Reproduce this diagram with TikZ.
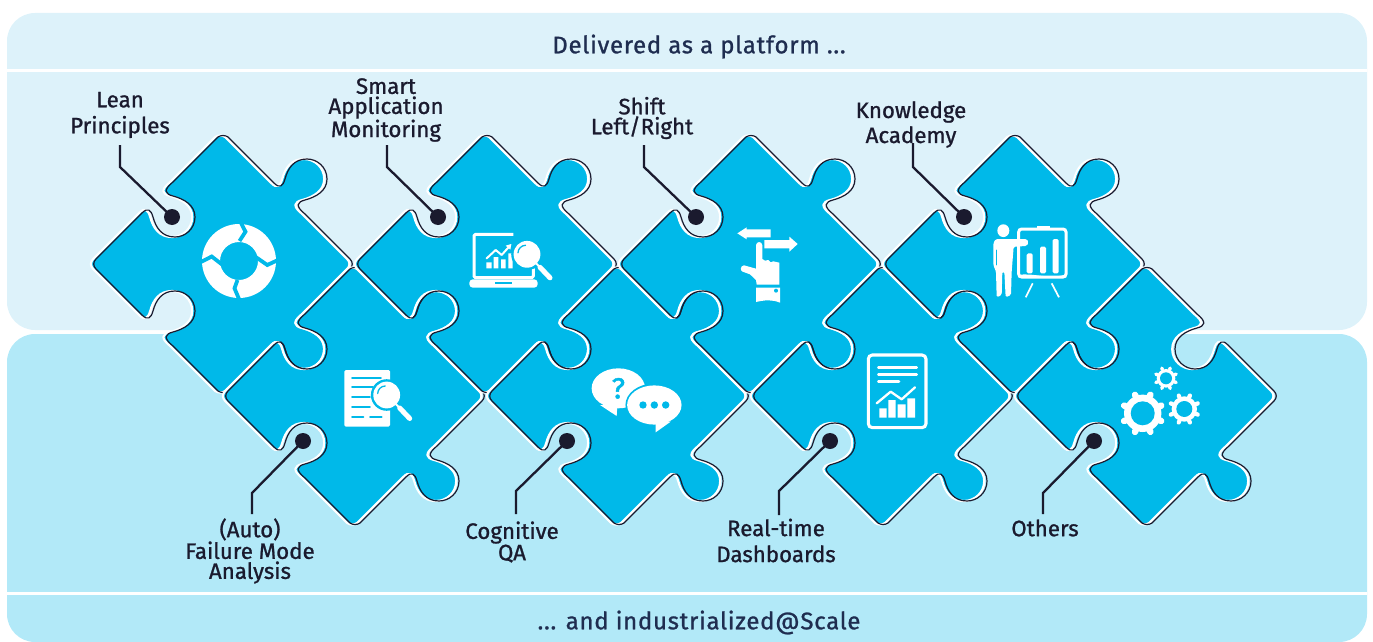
\documentclass[tikz,border=0pt]{standalone}
\usepackage{fontspec}
\setmainfont{Fira Sans}[FakeBold=1.0]
\newfontfamily\qmfont{Fira Sans}[FakeBold=1.6]
\definecolor{panelA}{HTML}{DDF2FA}
\definecolor{panelB}{HTML}{B2E9F8}
\definecolor{pieceblue}{HTML}{00B9E9}
\definecolor{inkdark}{HTML}{1A1A2E}
\definecolor{navy}{HTML}{1F2D50}
\def\edgeNEknob{-- (51,-81) .. controls (57,-75) and (60,-78) .. (62,-85) .. controls (65,-96) and (71,-105) .. (84,-105) .. controls (94,-105) and (104,-97) .. (104,-85) .. controls (104,-73) and (93,-67) .. (82,-64) .. controls (74,-62) and (72,-58) .. (82,-50) -- (127,-5)}
\def\edgeNEnotch{-- (50,-82) .. controls (60,-74) and (58,-70) .. (50,-68) .. controls (39,-65) and (28,-59) .. (28,-47) .. controls (28,-35) and (38,-27) .. (48,-27) .. controls (61,-27) and (67,-36) .. (70,-47) .. controls (72,-54) and (75,-57) .. (81,-51) -- (127,-5)}
\def\edgeRest{.. controls (130,-2) and (130,2) .. (127,5) -- (82,50) .. controls (72,58) and (74,62) .. (82,64) .. controls (93,67) and (104,73) .. (104,85) .. controls (104,97) and (94,105) .. (84,105) .. controls (71,105) and (65,96) .. (62,85) .. controls (60,78) and (57,75) .. (51,81) -- (5,127) .. controls (2,129) and (-2,129) .. (-5,127) -- (-50,82) .. controls (-60,74) and (-58,70) .. (-50,68) .. controls (-39,65) and (-28,59) .. (-28,47) .. controls (-28,35) and (-38,27) .. (-48,27) .. controls (-61,27) and (-67,36) .. (-70,47) .. controls (-72,54) and (-75,57) .. (-81,51) -- (-127,5) .. controls (-130,2) and (-130,-2) .. (-127,-5) -- (-81,-51) .. controls (-75,-57) and (-72,-54) .. (-70,-47) .. controls (-67,-36) and (-61,-27) .. (-48,-27) .. controls (-38,-27) and (-28,-35) .. (-28,-47) .. controls (-28,-59) and (-39,-65) .. (-50,-68) .. controls (-58,-70) and (-60,-74) .. (-50,-82) -- (-5,-127) .. controls (-2,-129) and (2,-129) .. (5,-127) -- cycle}
\newcommand{\puzzlepiece}[3]{%
  \begin{scope}[shift={(#1,#2)}]
    \fill[pieceblue,xshift=-2.8pt] (5,-127) #3 \edgeRest;
    \draw[pieceedge,xshift=-2.8pt] (5,-127) #3 \edgeRest;
    \draw[pieceline] (5,-127) #3 \edgeRest;
  \end{scope}}
\newcommand{\lensicon}[2]{%
  \begin{scope}[shift={(#1,#2)}]
    \fill[pieceblue] (0,0) circle (15.8pt);
    \fill[white] (0,0) circle (13.4pt);
    \draw[blueline,line width=1.3pt] (-1.5,-9) .. controls (-5.5,-9) and (-9,-5.5) .. (-9,-1.5);
    \draw[whiteline,line width=2pt] (9,9) -- (13,13);
    \draw[whiteline,line width=5pt] (13,13) -- (23,23.5);
  \end{scope}}
\newcommand{\gearicon}[7]{%
  \foreach \a in {0,45,...,315}{
    \draw[white,line width=#6pt,line cap=round] (#1,#2) ++(\a+#7:#4) -- ++(\a+#7:#3-#4-0.5*#6);
  }
  \fill[white] (#1,#2) circle (#4pt);
  \fill[pieceblue] (#1,#2) circle (#5pt);}
\tikzset{
  whiteline/.style={white,line cap=round,line join=round},
  blueline/.style={pieceblue,line cap=round,line join=round},
  pieceedge/.style={white,line width=2.2pt,line join=round},
  pieceline/.style={inkdark,line width=1.2pt,line join=round},
  leader/.style={inkdark,line width=2.3pt,line join=miter},
  anchordot/.style={circle,fill=inkdark,minimum size=16pt,inner sep=0pt},
  partlabel/.style={text=inkdark,font=\fontsize{22.3}{#1}\selectfont,align=center,inner sep=0pt},
  bannertext/.style={text=navy,font=\fontsize{24}{28}\selectfont,inner sep=0pt},
  gapline/.style={pieceblue,line width=3.8pt,line join=miter}
}
\begin{document}
\begin{tikzpicture}[x=1pt,y=-1pt]
\useasboundingbox (0,0) rectangle (1373,642);
% panels
\fill[panelA,rounded corners=28pt] (7,13) rectangle (1367,330);
\fill[panelB,rounded corners=28pt] (7,334) rectangle (1367,642);
\draw[white,line width=2.4pt] (7,70.5) -- (1367,70.5);
\draw[white,line width=3pt] (7,593) -- (1367,593);
\node[bannertext] (top) at (699,46.5) {\addfontfeature{LetterSpace=3}Delivered as a platform ...};
\node[bannertext] (bottom) at (699,622.5) {\addfontfeature{LetterSpace=3}... and industrialized@Scale};
% pieces
\puzzlepiece{223}{264}{\edgeNEknob}
\puzzlepiece{355}{396}{\edgeNEknob}
\puzzlepiece{487}{264}{\edgeNEknob}
\puzzlepiece{619}{396}{\edgeNEknob}
\puzzlepiece{751}{264}{\edgeNEknob}
\puzzlepiece{883}{396}{\edgeNEknob}
\puzzlepiece{1015}{264}{\edgeNEknob}
\puzzlepiece{1147}{396}{\edgeNEnotch}
% --- ring icon
\fill[white,even odd rule] (239,261) circle (37pt) (239,261) circle (19pt);
\draw[gapline] (241,223) -- (245.5,231.7) -- (239.5,241);
\draw[gapline] (255,256.5) -- (267.3,265) -- (278,260);
\draw[gapline] (237.5,280) -- (234.5,288.3) -- (239,299);
\draw[gapline] (201,262) -- (211.7,256.5) -- (222,264.5);
% --- document and lens
\fill[white,rounded corners=1.5pt] (344.3,370) rectangle (390,426.7);
\foreach \yy/\xa/\xb in {378.3/352/381,387.3/352/373,397.3/352/370,407.3/352/370,417.3/352/363.5,417.3/370/381.7}
  \draw[blueline,line width=1.7pt] (\xa,\yy) -- (\xb,\yy);
\lensicon{386.7}{395}
% --- laptop
\begin{scope}[shift={(465,225)},x=1/3*1pt,y=-1/3*1pt]
  \draw[white,line width=3pt,rounded corners=1.5pt,line join=round] (145,28) -- (27,28) -- (27,158) -- (205,158) -- (205,130);
  \fill[white,rounded corners=3.5pt] (13,163) rectangle (218,188);
  \fill[pieceblue] (90,170) rectangle (140,176);
  \fill[white] (64,112) rectangle (80,130) (86,96) rectangle (100,130) (108,103) rectangle (122,130) (130,85) rectangle (143,130);
  \draw[whiteline,line width=2pt] (65,100) -- (92,75) -- (110,90) -- (135,62);
  \fill[white] (139,57) -- (122,62) -- (136,74) -- cycle;
\end{scope}
\lensicon{527}{254.3}
% --- hand and arrows
\begin{scope}[shift={(730,220)},x=1/3*1pt,y=-1/3*1pt]
  \fill[white] (22,40) -- (50,22) -- (50,28) -- (122,28) -- (122,52) -- (50,52) -- (50,58) -- cycle;
  \fill[white] (203,72) -- (178,50) -- (178,60) -- (103,60) -- (103,85) -- (178,85) -- (178,95) -- cycle;
  \fill[white] (78,76) .. controls (78,63) and (97,63) .. (97,76) -- (97,117) -- (105,122) -- (115,120) -- (122,127) -- (130,124) -- (148,128) -- (148,194) -- (80,194) -- (78,180) -- (60,163) -- (38,155) .. controls (30,152) and (30,138) .. (42,136) -- (78,146) -- cycle;
  \fill[white] (78,203) -- (150,203) -- (150,248) .. controls (125,238) and (105,240) .. (78,246) -- cycle;
  \fill[pieceblue] (138,212) circle (2pt);
\end{scope}
% --- dashboard
\begin{scope}[shift={(860,345)},x=1/3*1pt,y=-1/3*1pt]
  \draw[white,line width=3.1pt,rounded corners=4pt] (25,30) rectangle (198,248);
  \draw[whiteline,line width=2.6pt] (55,67) -- (170,67) (55,88) -- (170,88) (55,110) -- (117,110);
  \fill[white] (58,190) rectangle (80,218) (85,165) rectangle (107,218) (113,178) rectangle (137,218) (142,160) rectangle (165,218);
  \draw[whiteline,line width=2.3pt] (50,175) -- (92,140) -- (125,163) -- (165,127);
\end{scope}
% --- presenter
\begin{scope}[shift={(985,215)},x=1/3*1pt,y=-1/3*1pt]
  \fill[white] (55,47) ellipse (6pt and 6.4pt);
  \fill[white,rounded corners=1.5pt] (25,85) -- (32,72) -- (125,72) -- (131,82) -- (125,93) -- (86,95) -- (80,170) -- (78,240) -- (62,247) -- (58,170) -- (52,170) -- (50,240) -- (35,247) -- (33,170) -- (25,150) -- cycle;
  \draw[blueline,line width=0.8pt] (35,105) -- (35,150);
  \draw[white,line width=3pt,rounded corners=3pt] (101,42) rectangle (243,186);
  \fill[white] (155,32) rectangle (195,42);
  \fill[white] (101,188) -- (101,180) .. controls (140,172) and (195,195) .. (243,178) -- (243,188) -- cycle;
  \fill[white,rounded corners=1.5pt] (125,115) rectangle (143,175) (165,95) rectangle (183,175) (203,72) rectangle (221,175);
  \draw[white,line width=1.7pt] (143,205) -- (122,247) (200,205) -- (222,247);
\end{scope}
% --- speech bubbles
\begin{scope}[shift={(460,210)},x=1/3*1pt,y=-1/3*1pt]
  \fill[white] (475,535) ellipse (26.7pt and 20pt);
  \fill[white] (420,585) -- (470,618) -- (472,585) -- cycle;
  \node[text=pieceblue,font=\qmfont\fontsize{29}{30}\selectfont,inner sep=0pt] (qm) at (475,535) {?};
  \fill[pieceblue] (583,585) ellipse (28.9pt and 21.5pt);
  \fill[white] (583,585) ellipse (27.2pt and 19.6pt);
  \fill[white] (587,635) -- (587,667) -- (632,635) -- cycle;
  \fill[pieceblue] (549,585) circle (3.7pt) (583,585) circle (3.7pt) (617,585) circle (3.7pt);
\end{scope}
% --- gears
\begin{scope}[shift={(1110,360)}]
  \gearicon{32.7}{53.3}{23.3}{18.7}{12}{6.4}{22.5}
  \gearicon{74.3}{49}{16.7}{12.7}{8}{4.2}{22.5}
  \gearicon{56}{18.3}{12.7}{9.3}{6}{3.4}{22.5}
\end{scope}
% --- labels and leaders
\node[anchordot] (d1) at (172,217) {};
\coordinate (b1) at (120,167); \coordinate (e1) at (120,145);
\draw[leader] (d1.center) -- (b1) -- (e1);
\node[partlabel=26] (t1) at (120,115) {Lean\\Principles};
\node[anchordot] (d2) at (438,217) {};
\coordinate (b2) at (387,167); \coordinate (e2) at (387,145);
\draw[leader] (d2.center) -- (b2) -- (e2);
\node[partlabel=20] (t2) at (386,110) {Smart\\Application\\Monitoring};
\node[anchordot] (d3) at (696,217) {};
\coordinate (b3) at (644,167); \coordinate (e3) at (644,145);
\draw[leader] (d3.center) -- (b3) -- (e3);
\node[partlabel=20] (t3) at (642,118) {Shift\\Left/Right};
\node[anchordot] (d4) at (964,217) {};
\coordinate (b4) at (913,167); \coordinate (e4) at (913,143);
\draw[leader] (d4.center) -- (b4) -- (e4);
\node[partlabel=25] (t4) at (911,124.5) {Knowledge\\Academy};
\node[anchordot] (d5) at (303,441) {};
\coordinate (b5) at (252,493); \coordinate (e5) at (252,514);
\draw[leader] (d5.center) -- (b5) -- (e5);
\node[partlabel=20] (t5) at (250,551) {(Auto)\\Failure Mode\\Analysis};
\node[anchordot] (d6) at (567,441) {};
\coordinate (b6) at (516,491); \coordinate (e6) at (516,514);
\draw[leader] (d6.center) -- (b6) -- (e6);
\node[partlabel=20] (t6) at (512,542) {Cognitive\\QA};
\node[anchordot] (d7) at (830,441) {};
\coordinate (b7) at (779,491); \coordinate (e7) at (779,515);
\draw[leader] (d7.center) -- (b7) -- (e7);
\node[partlabel=26] (t7) at (776,540.5) {Real-time\\Dashboards};
\node[anchordot] (d8) at (1094,441) {};
\coordinate (b8) at (1043,493); \coordinate (e8) at (1043,514);
\draw[leader] (d8.center) -- (b8) -- (e8);
\node[partlabel=20] (t8) at (1045,528) {Others};
\end{tikzpicture}
\end{document}
